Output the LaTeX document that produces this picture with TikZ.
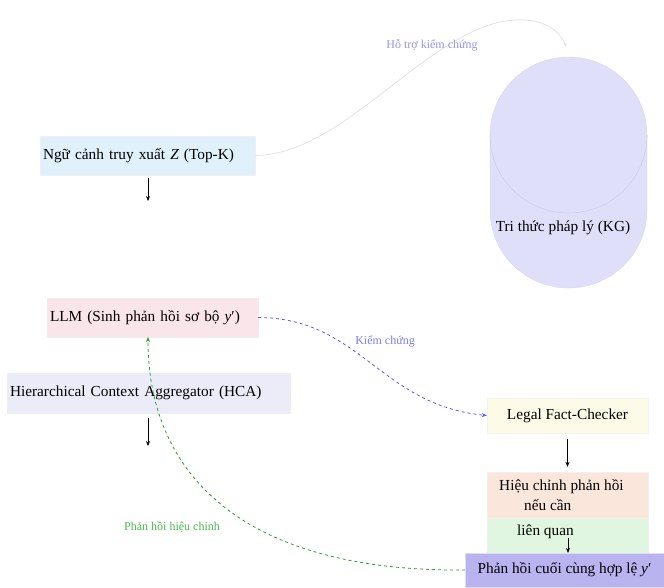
\documentclass[tikz,border=0pt]{standalone}
\usepackage{fontspec}
\setmainfont{Liberation Serif}
\usetikzlibrary{arrows.meta,calc}
\definecolor{cblue}{HTML}{E0F1FB}
\definecolor{cpink}{HTML}{F9E5EA}
\definecolor{clav}{HTML}{ECECF9}
\definecolor{cyel}{HTML}{FDFAE8}
\definecolor{csalm}{HTML}{FBE6DC}
\definecolor{cgreen}{HTML}{E1F6E1}
\definecolor{cfinal}{HTML}{B9B4EF}
\definecolor{ccyl}{HTML}{E0DFFA}
\definecolor{ccyledge}{HTML}{CFCDEE}
\definecolor{cdblue}{HTML}{5C5CE0}
\definecolor{clblue}{HTML}{7C7CE6}
\definecolor{cdgreen}{HTML}{2E9E2E}
\definecolor{clgreen}{HTML}{4DB84D}
\tikzset{
  box/.style={draw=#1!80!gray!40, fill=#1, line width=0.3pt, inner sep=0pt, font=\fontsize{15.3}{17}\selectfont},
  txt/.style={font=\fontsize{15.3}{17}\selectfont, anchor=west, inner sep=0pt},
  blk/.style={-{Stealth[length=5pt,width=4pt]}, line width=0.9pt, black},
  lbl/.style={font=\fontsize{12}{14}\selectfont, inner sep=1pt},
}
\begin{document}
\begin{tikzpicture}[x=1pt,y=-1pt]
\useasboundingbox (0,0) rectangle (664,587);
% cylinder
\filldraw[fill=ccyl, draw=ccyl!90!gray, line width=0.3pt] (490,135) arc[start angle=180, end angle=360, x radius=78.5, y radius=78]
  -- (647,210) arc[start angle=0, end angle=180, x radius=78.5, y radius=78] -- cycle;
\draw[ccyledge, line width=0.6pt] (490,135) arc[start angle=180, end angle=0, x radius=78.5, y radius=78];
\node[font=\fontsize{15.3}{17}\selectfont] (kg) at (563,228) {Tri thức pháp lý (KG)};
\coordinate (kgtop) at (566,47);

% boxes
\node[box=cblue, minimum width=215, minimum height=39, text width=209, align=left] (ctx) at (147.5,155.5) {Ngữ cảnh truy xuất \textit{Z} (Top-K)};
\node[box=cpink, minimum width=211, minimum height=39, text width=205, align=left] (llm) at (152.5,317.5) {LLM (Sinh phản hồi sơ bộ \textit{y}′)};
\node[box=clav, minimum width=283, minimum height=40, text width=277, align=left] (hca) at (148.5,393) {Hierarchical Context Aggregator (HCA)};
\node[box=cyel, minimum width=161, minimum height=35] (lfc) at (567.5,415.5) {Legal Fact-Checker};
\node[box=csalm, minimum width=161, minimum height=46] (rev) at (567.5,495) {};
\node[box=cgreen, minimum width=161, minimum height=37] (rel) at (567.5,536.5) {};
\node[txt] (revt1) at (499,487) {Hiệu chỉnh phản hồi};
\node[txt] (revt2) at (524,505) {nếu cần};
\node[txt] (relt) at (517,532) {liên quan};
\node[box=cfinal, minimum width=199, minimum height=34] (fin) at (564.5,570) {Phản hồi cuối cùng hợp lệ \textit{y}′};

% black arrows
\coordinate (a0) at (148,178);
\coordinate (a1) at (148,201);
\coordinate (b0) at (148,418);
\coordinate (a2) at (148,446);
\coordinate (c0) at (568,538);
\coordinate (c1) at (568,553);
\coordinate (llmb) at (148,337);
\draw[blk] (a0) -- (a1);
\draw[blk] (b0) -- (a2);
\draw[blk] ($(lfc.south)+(0,6)$) -- ($(rev.north)+(0,-5)$);
\draw[blk] (c0) -- (c1);

% gray arc
\draw[gray!22, line width=0.8pt, -{Stealth[length=4pt,width=3pt]}] (ctx.east) .. controls (340,155) and (420,40) .. (500,22) .. controls (540,14) and (560,30) .. (kgtop);
\node[lbl, text=clblue!80] (l1) at (432,45) {Hỗ trợ kiểm chứng};

% blue dashed
\draw[cdblue, dashed, line width=0.8pt, -{Stealth[length=5pt,width=4pt]}] (llm.east) .. controls (360,318) and (380,405) .. (lfc.west);
\node[lbl, text=clblue] (l2) at (385,341) {Kiểm chứng};

% green dashed
\draw[cdgreen, dashed, line width=0.8pt, -{Stealth[length=5pt,width=4pt]}] (fin.west) .. controls (250,572) and (148,480) .. (llmb);
\node[lbl, text=clgreen] (l3) at (172,527) {Phản hồi hiệu chỉnh};
\end{tikzpicture}
\end{document}
